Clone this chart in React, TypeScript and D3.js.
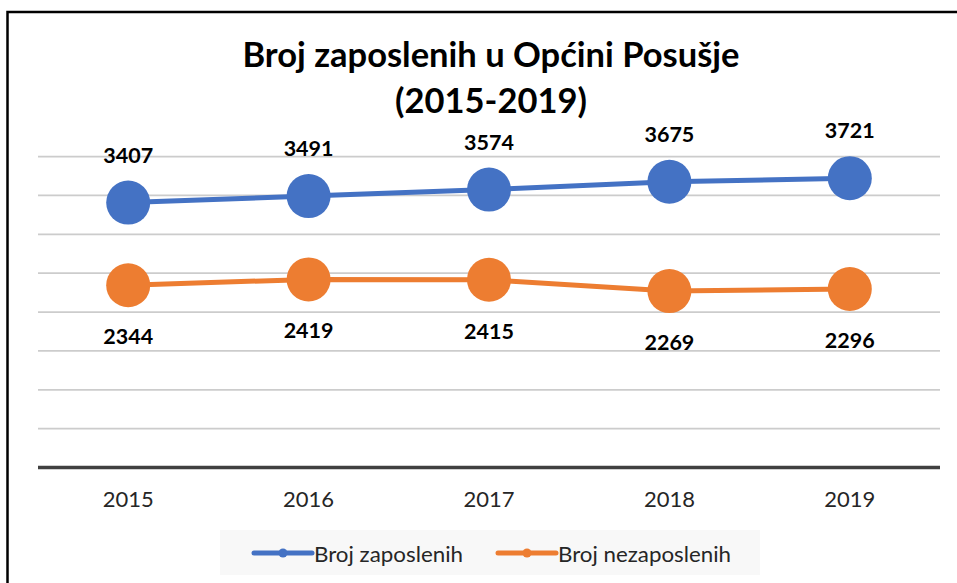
import * as d3 from 'd3';

// ---------------------------------------------------------------------------
// Data
// ---------------------------------------------------------------------------
const YEARS = ['2015', '2016', '2017', '2018', '2019'];
const EMPLOYED = [3407, 3491, 3574, 3675, 3721];
const UNEMPLOYED = [2344, 2419, 2415, 2269, 2296];
const Y_TICKS = [0, 500, 1000, 1500, 2000, 2500, 3000, 3500, 4000];
const SERIES_NAMES = ['Broj zaposlenih', 'Broj nezaposlenih'];

// ---------------------------------------------------------------------------
// Colors
// ---------------------------------------------------------------------------
const BLUE = '#4472c4';
const ORANGE = '#ed7d31';
const GRID = '#cccccc';
const AXIS = '#404040';
const TEXT = '#262626';
const FONT = 'Lato, "Open Sans", sans-serif';

const W = 957;
const H = 583;

export default function App() {
  const x = d3.scaleBand<string>().domain(YEARS).range([38, 940]);
  const y = d3.scaleLinear().domain([0, 4000]).range([467.5, 156.5]);
  const cx = (yr: string) => (x(yr) ?? 0) + x.bandwidth() / 2;

  const line = d3
    .line<number>()
    .x((_, i) => cx(YEARS[i]))
    .y((d) => y(d));

  const series = [
    { name: SERIES_NAMES[0], values: EMPLOYED, color: BLUE, labelDy: -48 },
    { name: SERIES_NAMES[1], values: UNEMPLOYED, color: ORANGE, labelDy: 51 },
  ];

  const legendItems = [
    { name: SERIES_NAMES[0], color: BLUE, x0: 254, len: 149 },
    { name: SERIES_NAMES[1], color: ORANGE, x0: 498, len: 173 },
  ];

  return (
    <svg
      width={W}
      height={H}
      style={{ position: 'absolute', left: 0, top: 0, background: '#fff' }}
      fontFamily={FONT}
    >
      {/* frame */}
      <rect x={7.5} y={12} width={1200} height={1200} fill="#fff" stroke="#000" strokeWidth={2.5} />

      {/* title */}
      <text x={491} y={67} textAnchor="middle" fontSize={34.5} fontWeight={700} fill="#000">
        Broj zaposlenih u Općini Posušje
      </text>
      <text x={491} y={113} textAnchor="middle" fontSize={34.5} fontWeight={700} fill="#000">
        (2015-2019)
      </text>

      {/* gridlines */}
      {Y_TICKS.filter((t) => t > 0).map((t) => (
        <line key={t} x1={38} x2={940} y1={y(t)} y2={y(t)} stroke={GRID} strokeWidth={1.75} />
      ))}
      <line x1={38} x2={940} y1={y(0)} y2={y(0)} stroke={AXIS} strokeWidth={3.5} />

      {/* x tick labels */}
      {YEARS.map((yr) => (
        <text key={yr} x={cx(yr)} y={507} textAnchor="middle" fontSize={22} fill={TEXT}>
          {yr}
        </text>
      ))}

      {/* series */}
      {series.map((s) => (
        <g key={s.name}>
          <path d={line(s.values) ?? ''} fill="none" stroke={s.color} strokeWidth={5} />
          {s.values.map((v, i) => (
            <circle key={i} cx={cx(YEARS[i])} cy={y(v)} r={22} fill={s.color} />
          ))}
          {s.values.map((v, i) => (
            <text
              key={'l' + i}
              x={cx(YEARS[i])}
              y={y(v) + s.labelDy}
              textAnchor="middle"
              dominantBaseline="central"
              fontSize={21.5}
              fontWeight={700}
              fill="#000"
            >
              {v}
            </text>
          ))}
        </g>
      ))}

      {/* legend */}
      <rect x={220} y={530} width={540} height={45} fill="#f8f8f8" />
      {legendItems.map((l) => (
        <g key={l.name}>
          <line x1={l.x0} x2={l.x0 + 58} y1={553} y2={553} stroke={l.color} strokeWidth={5} strokeLinecap="round" />
          <circle cx={l.x0 + 29} cy={553} r={4.5} fill={l.color} />
          <text
            x={l.x0 + 60}
            y={553}
            dominantBaseline="central"
            fontSize={21}
            fill={TEXT}
            textLength={l.len}
            lengthAdjust="spacingAndGlyphs"
          >
            {l.name}
          </text>
        </g>
      ))}
    </svg>
  );
}
